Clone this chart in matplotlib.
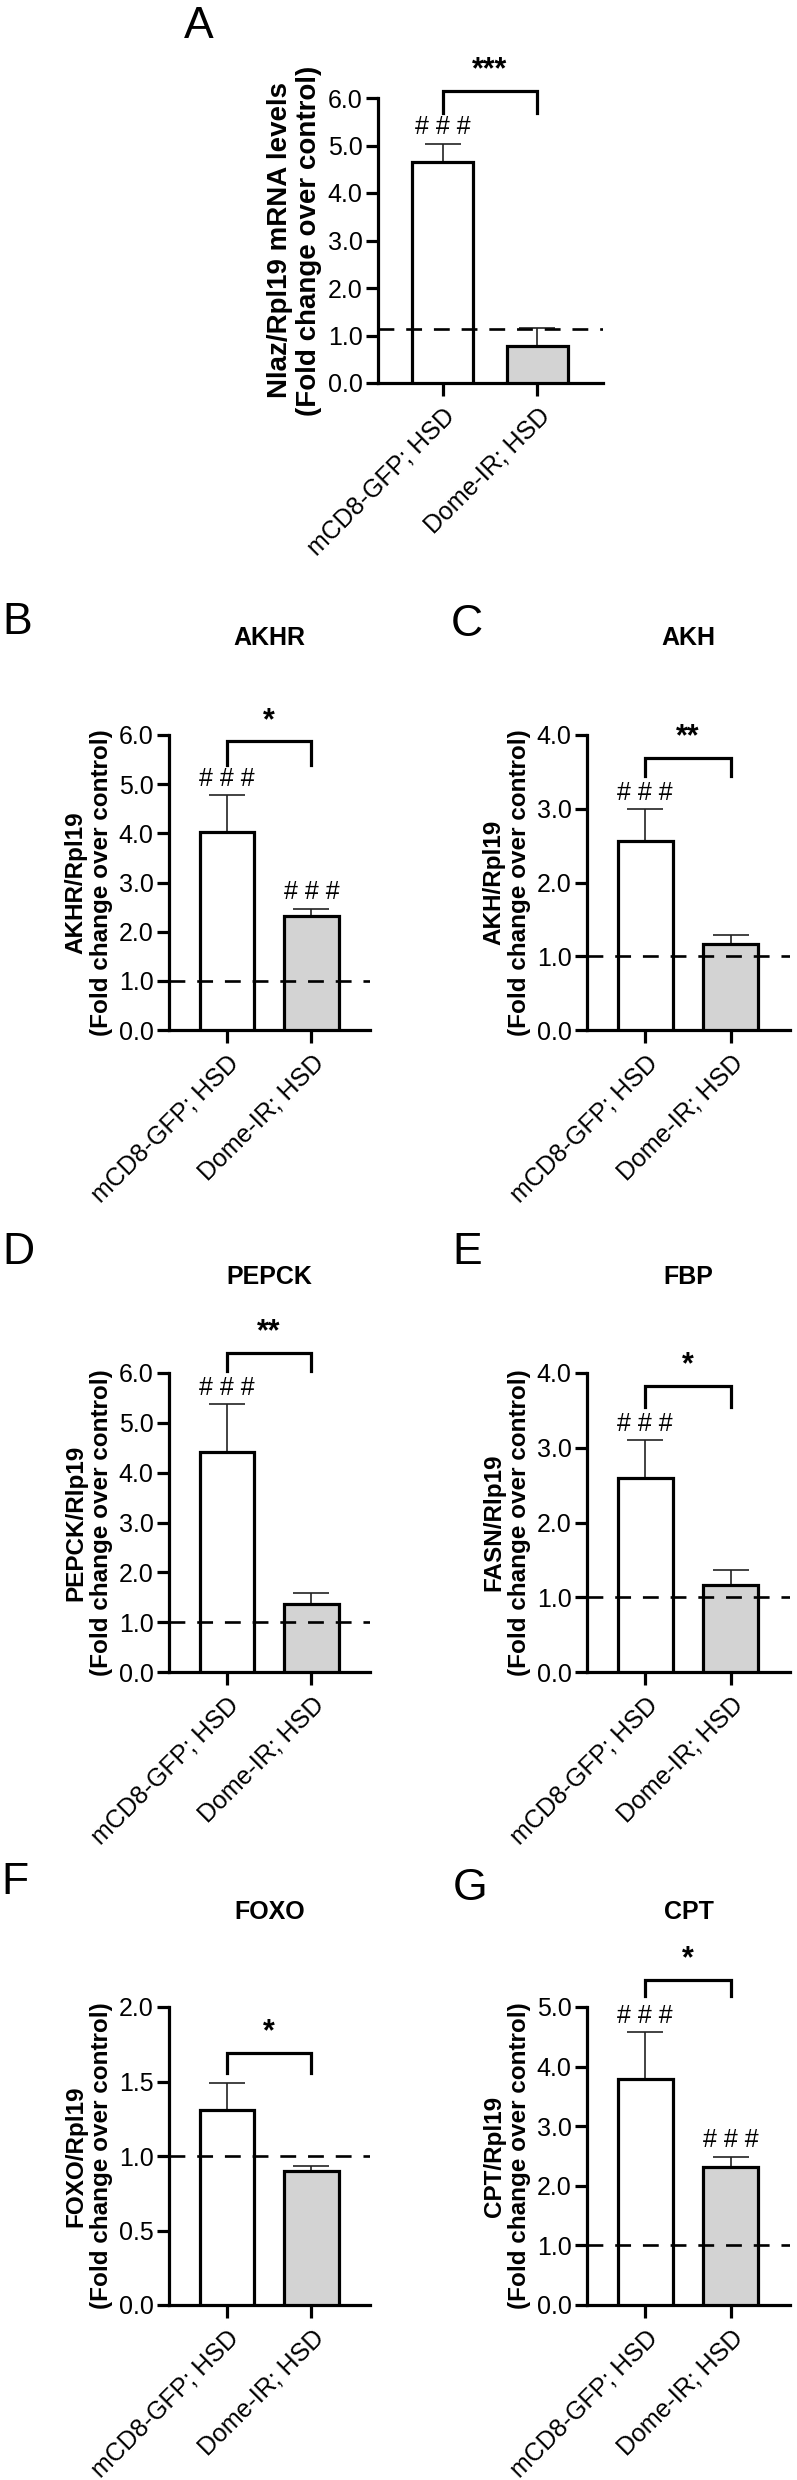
import matplotlib.pyplot as plt

plt.rcParams['font.family'] = ['Liberation Sans', 'DejaVu Sans']

groups = ["mCD8-GFP; HSD", "Dome-IR; HSD"]

# mean and upper SEM for each gene
nlaz_mean = [4.65, 0.77]
nlaz_err = [0.39, 0.39]
akhr_mean = [4.02, 2.32]
akhr_err = [0.76, 0.15]
akh_mean = [2.56, 1.17]
akh_err = [0.44, 0.12]
pepck_mean = [4.42, 1.37]
pepck_err = [0.96, 0.21]
fasn_mean = [2.59, 1.17]
fasn_err = [0.51, 0.19]
foxo_mean = [1.31, 0.90]
foxo_err = [0.18, 0.03]
cpt_mean = [3.80, 2.32]
cpt_err = [0.78, 0.17]

panel_letters = ["A", "B", "C", "D", "E", "F", "G"]
titles = ["", "AKHR", "AKH", "PEPCK", "FBP", "FOXO", "CPT"]
ylabels = ["Nlaz/Rpl19 mRNA levels", "AKHR/Rpl19", "AKH/Rpl19", "PEPCK/Rlp19",
           "FASN/Rlp19", "FOXO/Rpl19", "CPT/Rpl19"]
control_level = [1.14, 1.0, 1.0, 1.0, 1.0, 1.0, 1.0]
y_max = [6, 6, 4, 6, 4, 2, 5]
y_step = [1, 1, 1, 1, 1, 0.5, 1]
sig_stars = ["***", "*", "**", "**", "*", "*", "*"]
bracket_top = [6.15, 5.87, 3.69, 6.40, 3.83, 1.69, 5.46]
bracket_leg = [5.68, 5.40, 3.44, 6.04, 3.55, 1.56, 5.18]
hash_marks = [[True, False], [True, True], [True, False], [True, False],
              [True, False], [False, False], [True, True]]

means = [nlaz_mean, akhr_mean, akh_mean, pepck_mean, fasn_mean, foxo_mean, cpt_mean]
errs = [nlaz_err, akhr_err, akh_err, pepck_err, fasn_err, foxo_err, cpt_err]

W, H = 797, 2480
fig = plt.figure(figsize=(W / 100, H / 100), dpi=100)

# axes boxes in pixels: left, top, right, bottom
boxes = [(378, 98, 603, 383),
         (169, 735, 370, 1030), (587, 735, 790, 1030),
         (169, 1373, 370, 1672), (587, 1373, 790, 1672),
         (169, 2007, 370, 2305), (587, 2007, 790, 2305)]
letter_pos = [(199, 26), (17, 623), (467, 625), (18, 1253), (467, 1253), (15, 1883), (470, 1888)]
title_y = [None, 638, 638, 1277, 1277, 1912, 1912]

x = [0, 1]
for i in range(7):
    l, t, r, b = boxes[i]
    ax = fig.add_axes([l / W, 1 - b / H, (r - l) / W, (b - t) / H])
    ax.bar(x, means[i], width=0.64, color=["white", "#d3d3d3"], edgecolor="black",
           linewidth=2.3, zorder=3)
    ax.errorbar(x, means[i], yerr=[[0, 0], errs[i]], fmt="none", ecolor="#222222",
                elinewidth=1.2, capsize=13, capthick=1.2, zorder=2)
    ax.axhline(control_level[i], color="black", linestyle=(0, (6, 4.5)), linewidth=1.9, zorder=4)

    ax.set_xlim(-0.68, 1.69)
    ax.set_ylim(0, y_max[i])
    ticks = [k * y_step[i] for k in range(int(round(y_max[i] / y_step[i])) + 1)]
    ax.set_yticks(ticks)
    ax.set_yticklabels(["%.1f" % v for v in ticks], fontsize=18)
    ax.set_xticks(x)
    ax.set_xticklabels(groups, rotation=45, ha="right", rotation_mode="anchor", fontsize=18)
    ax.tick_params(axis="both", width=2.3, length=9, color="black", pad=2)
    ax.tick_params(axis="x", pad=6)
    for side in ["top", "right"]:
        ax.spines[side].set_visible(False)
    for side in ["left", "bottom"]:
        ax.spines[side].set_linewidth(2.3)
    ax.set_ylabel(ylabels[i] + "\n(Fold change over control)", fontsize=20 if i == 0 else 17.5,
                  fontweight="bold", labelpad=4, linespacing=1.15)

    # significance bracket between the two groups
    ax.plot([0, 0, 1, 1], [bracket_leg[i], bracket_top[i], bracket_top[i], bracket_leg[i]],
            color="black", linewidth=2.3, clip_on=False, solid_joinstyle="miter")
    ax.annotate(sig_stars[i], (0.5, bracket_top[i]), xytext=(0, 4), textcoords="offset points",
                ha="center", va="bottom", fontsize=22, fontweight="bold", annotation_clip=False)

    for j in range(2):
        if hash_marks[i][j]:
            ax.annotate("# # #", (x[j], means[i][j] + errs[i][j]), xytext=(0, 3),
                        textcoords="offset points", ha="center", va="bottom", fontsize=18,
                        annotation_clip=False)

    lx, ly = letter_pos[i]
    fig.text(lx / W, 1 - ly / H, panel_letters[i], fontsize=32, ha="center", va="center")
    if titles[i]:
        fig.text((l + r) / 2 / W, 1 - title_y[i] / H, titles[i], fontsize=18,
                 fontweight="bold", ha="center", va="center")

fig.savefig("out.png", dpi=100, facecolor="white")
